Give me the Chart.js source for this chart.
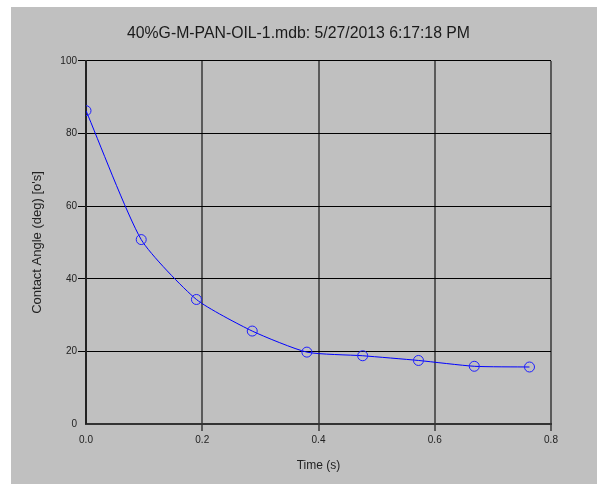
<!DOCTYPE html>
<html>
<head>
<meta charset="utf-8">
<script src="https://cdn.jsdelivr.net/npm/chart.js@4/dist/chart.umd.min.js"></script>
<style>
  html, body { margin: 0; padding: 0; background: #ffffff; }
  #wrap { width: 597px; height: 484px; position: relative; }
</style>
</head>
<body>
<div id="wrap"><canvas id="c" width="597" height="484"></canvas></div>
<script>
// Drop measurement: contact angle over time
const timeSec = [0, 0.095, 0.19, 0.286, 0.380, 0.476, 0.572, 0.668, 0.763];
const angleDeg = [86.3, 50.8, 34.3, 25.6, 19.8, 18.8, 17.5, 15.9, 15.7];
const xTicks = [0, 0.2, 0.4, 0.6, 0.8];
const yTicks = [0, 20, 40, 60, 80, 100];

const chartTitle = '40%G-M-PAN-OIL-1.mdb: 5/27/2013 6:17:18 PM';
const xTitle = 'Time (s)';
const yTitle = "Contact Angle (deg) [o's]";

const points = timeSec.map((t, i) => ({ x: t, y: angleDeg[i] }));

// grey panel behind everything, inset from the top-left edge
const panelBg = {
  id: 'panelBg',
  beforeDraw(chart) {
    const ctx = chart.ctx;
    ctx.save();
    ctx.fillStyle = '#ffffff';
    ctx.fillRect(0, 0, chart.width, chart.height);
    ctx.fillStyle = '#c0c0c0';
    ctx.fillRect(11, 7, chart.width - 11, chart.height - 7);
    ctx.restore();
  }
};

const FONT = "'Liberation Sans', Arial, sans-serif";
const tickOff = ctx => (ctx.tick && ctx.tick.value === 0);

new Chart(document.getElementById('c'), {
  type: 'scatter',
  data: {
    datasets: [{
      data: points,
      showLine: true,
      borderColor: '#0000ff',
      borderWidth: 1,
      tension: 0.2,
      pointStyle: 'circle',
      pointRadius: 5,
      pointBorderWidth: 1,
      pointBorderColor: '#1f1fff',
      pointBackgroundColor: 'rgba(0,0,0,0)'
    }]
  },
  options: {
    responsive: false,
    animation: false,
    devicePixelRatio: 1,
    layout: { padding: 0 },
    plugins: {
      legend: { display: false },
      tooltip: { enabled: false },
      title: {
        display: true,
        text: chartTitle,
        color: '#1a1a1a',
        font: { family: FONT, size: 15.8, weight: 'normal' },
        padding: { top: 24, bottom: 18 }
      }
    },
    scales: {
      x: {
        type: 'linear',
        min: 0,
        max: 0.8,
        afterBuildTicks(scale) { scale.ticks = xTicks.map(v => ({ value: v })); },
        afterFit(scale) { scale.height = 60; },
        ticks: {
          color: '#222',
          font: { family: FONT, size: 10 },
          padding: 3,
          callback: v => Number(v).toFixed(1)
        },
        grid: {
          color: '#5a5a5a',
          lineWidth: 2,
          tickLength: 7,
          tickColor: ctx => tickOff(ctx) ? 'rgba(0,0,0,0)' : '#5a5a5a'
        },
        border: { color: '#333333', width: 2 },
        title: {
          display: true,
          text: xTitle,
          color: '#222',
          font: { family: FONT, size: 12 },
          padding: { top: 0, bottom: 11 }
        }
      },
      y: {
        type: 'linear',
        min: 0,
        max: 100,
        afterBuildTicks(scale) { scale.ticks = yTicks.map(v => ({ value: v })); },
        afterFit(scale) { scale.width = 86; },
        ticks: {
          color: '#222',
          font: { family: FONT, size: 10 },
          padding: 1
        },
        grid: {
          color: '#000000',
          lineWidth: 1,
          tickLength: 8,
          tickColor: ctx => tickOff(ctx) ? 'rgba(0,0,0,0)' : '#000000'
        },
        border: { color: '#222222', width: 2 },
        title: {
          display: true,
          text: yTitle,
          color: '#222',
          font: { family: FONT, size: 13 },
          padding: { top: 30, bottom: 0 }
        }
      },
      // empty right-hand margin next to the plot
      yRight: {
        type: 'linear',
        position: 'right',
        display: true,
        afterFit(scale) { scale.width = 46; },
        ticks: { display: false },
        grid: { display: false, drawTicks: false },
        border: { display: false },
        title: { display: false }
      }
    }
  },
  plugins: [panelBg]
});
</script>
</body>
</html>
